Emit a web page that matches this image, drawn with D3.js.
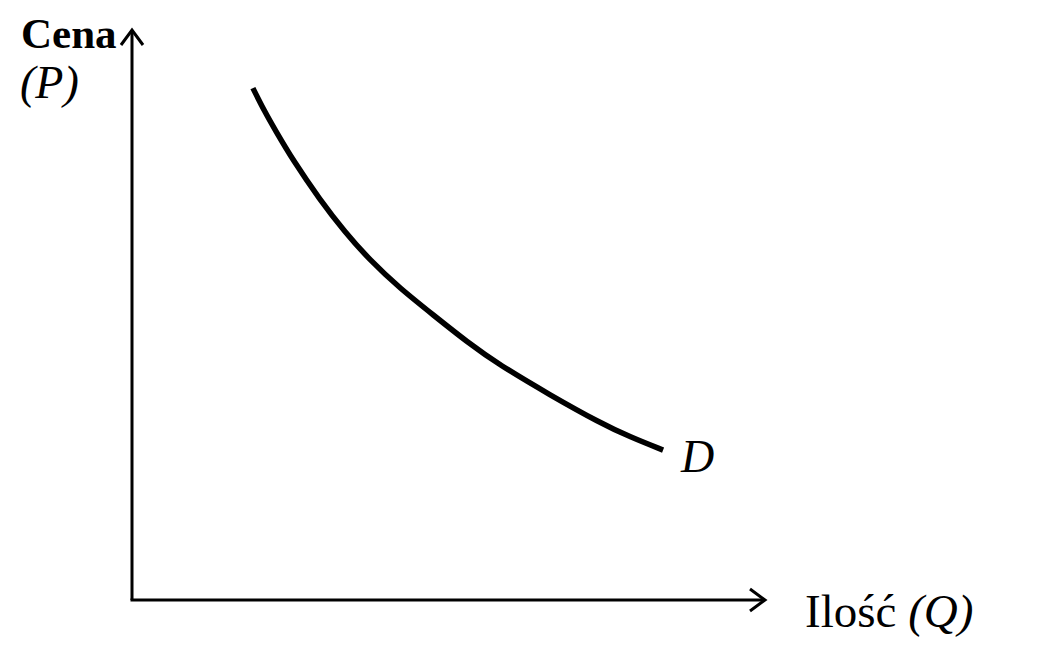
<!DOCTYPE html>
<html><head><meta charset="utf-8">
<script src="https://cdn.jsdelivr.net/npm/d3@7"></script>
<style>html,body{margin:0;padding:0;background:#fff;}svg{display:block;}</style>
</head><body>
<svg id="c" width="1037" height="650"></svg>
<script>
// Demand curve: quantity (Q) and price (P), in axis units (0-100)
const quantity = [19.1, 21.0, 22.6, 25.4, 29.7, 33.6, 37.6, 42.3, 47.6, 52.9, 58.1, 66.0, 73.9, 78.7, 83.9];
const price    = [89.8, 85.6, 82.5, 77.2, 70.2, 64.6, 59.6, 54.7, 50.0, 45.3, 41.2, 36.0, 31.1, 28.6, 26.3];
const yTitle = ["Cena", "(P)"];
const xTitleMain = "Ilość ";
const xTitleVar = "(Q)";
const curveLabel = "D";

const svg = d3.select("#c");
const x = d3.scaleLinear().domain([0, 100]).range([132, 765]);
const y = d3.scaleLinear().domain([0, 100]).range([600, 30]);

const ink = "#000";
// axes
svg.append("line").attr("x1", x(0)).attr("y1", y(0)).attr("x2", x(0)).attr("y2", y(100))
  .attr("stroke", ink).attr("stroke-width", 3);
svg.append("line").attr("x1", x(0) - 1.5).attr("y1", y(0)).attr("x2", x(100)).attr("y2", y(0))
  .attr("stroke", ink).attr("stroke-width", 3);
// arrow heads
svg.append("path")
  .attr("d", `M${x(0)-11},${y(100)+15} L${x(0)},${y(100)} L${x(0)+11},${y(100)+15}`)
  .attr("fill", "none").attr("stroke", ink).attr("stroke-width", 3);
svg.append("path")
  .attr("d", `M${x(100)-15},${y(0)-11} L${x(100)},${y(0)} L${x(100)-15},${y(0)+11}`)
  .attr("fill", "none").attr("stroke", ink).attr("stroke-width", 3);

// curve
const pts = quantity.map((q, i) => [q, price[i]]);
svg.append("path").datum(pts)
  .attr("d", d3.line().x(d => x(d[0])).y(d => y(d[1])).curve(d3.curveBasis))
  .attr("fill", "none").attr("stroke", ink).attr("stroke-width", 5.5);

const font = "'Liberation Serif', 'Times New Roman', serif";
// y title
svg.append("text").attr("x", 21).attr("y", 48).attr("font-family", font)
  .attr("font-size", 43).attr("font-weight", "bold").attr("fill", ink).text(yTitle[0]);
svg.append("text").attr("x", 20).attr("y", 98).attr("font-family", font)
  .attr("font-size", 46).attr("font-style", "italic").attr("fill", ink).text(yTitle[1]);
// curve label
const last = pts[pts.length - 1];
svg.append("text").attr("x", x(last[0]) + 18).attr("y", y(last[1]) + 22).attr("font-family", font)
  .attr("font-size", 46).attr("font-style", "italic").attr("fill", ink).text(curveLabel);
// x title
const xt = svg.append("text").attr("x", 805).attr("y", 627).attr("font-family", font)
  .attr("font-size", 47).attr("fill", ink);
xt.append("tspan").text(xTitleMain);
xt.append("tspan").attr("font-style", "italic").text(xTitleVar);
</script>
</body></html>
